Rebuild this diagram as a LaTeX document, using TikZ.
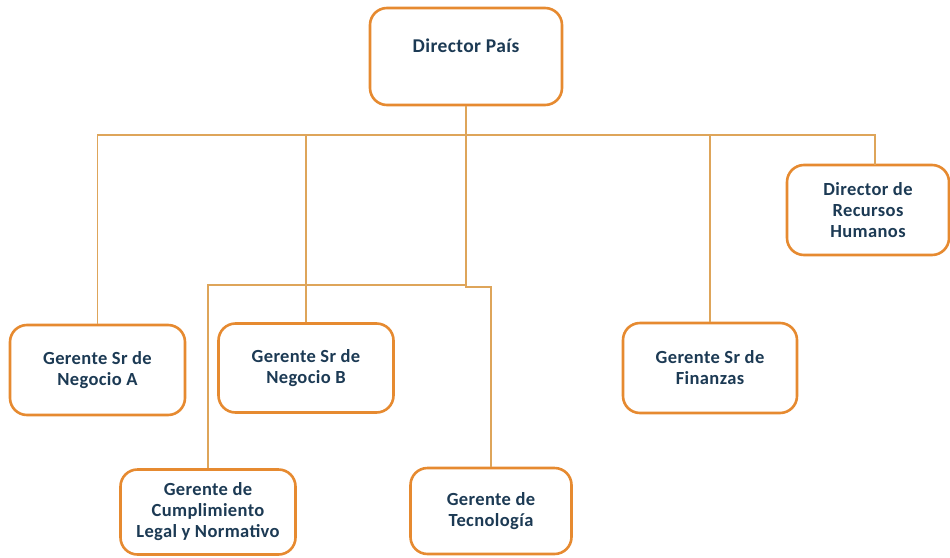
\documentclass[tikz,border=0pt]{standalone}
\usepackage{fontspec}
\setmainfont{Carlito}[LetterSpace=2]
\definecolor{boxorange}{RGB}{230,138,48}
\definecolor{lineorange}{RGB}{222,165,90}
\definecolor{txtnavy}{RGB}{28,58,84}
\tikzset{
  orgbox/.style={draw=boxorange, line width=2.6pt, rounded corners=17pt, fill=white,
    align=center, text=txtnavy, font=\bfseries\fontsize{18.5}{21}\selectfont, inner sep=0pt},
  conn/.style={draw=lineorange, line width=1.3pt}
}
\begin{document}
\begin{tikzpicture}[x=1pt,y=-1pt]
\useasboundingbox (0,0) rectangle (950,557);
% boxes
\node[orgbox, minimum width=192pt, minimum height=97pt, text depth=22pt, font=\bfseries\fontsize{19.5}{22}\selectfont] (dir) at (466,56.5) {Director País};
\node[orgbox, minimum width=175pt, minimum height=90pt] (ga) at (97.5,370) {Gerente Sr de\\Negocio A};
\node[orgbox, minimum width=175pt, minimum height=89pt] (gb) at (306,368) {Gerente Sr de\\Negocio B};
\node[orgbox, minimum width=174pt, minimum height=90pt] (gf) at (710,368) {Gerente Sr de\\Finanzas};
\node[orgbox, minimum width=162pt, minimum height=90pt] (rh) at (868,210) {Director de\\Recursos\\Humanos};
\node[orgbox, minimum width=175pt, minimum height=85pt] (gc) at (208,512) {Gerente de\\Cumplimiento\\Legal y Normativo};
\node[orgbox, minimum width=161pt, minimum height=86pt] (gt) at (491,511) {Gerente de\\Tecnología};
% connectors
\coordinate (bus) at (466,135);
\coordinate (sub) at (466,285);
\coordinate (rhtop) at (875,165);
\draw[conn] (dir.south) -- (bus);
\draw[conn] (ga.north) -- (ga.north |- bus) -- (rhtop |- bus) -- (rhtop);
\draw[conn] (gb.north) -- (gb.north |- bus);
\draw[conn] (gf.north) -- (gf.north |- bus);
\draw[conn] (bus) -- (sub);
\draw[conn] (gc.north) -- (gc.north |- sub) -- (sub) -- ++(0,2) -| (gt.north);
\end{tikzpicture}
\end{document}
